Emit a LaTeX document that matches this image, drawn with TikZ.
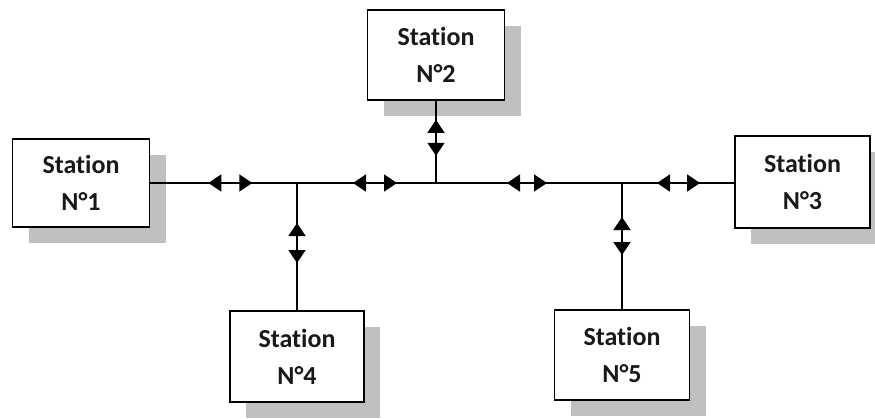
\documentclass[tikz,border=0pt]{standalone}
\usepackage{fontspec}
\setmainfont[Ligatures={NoCommon,NoRequired,NoContextual}]{Carlito}
\usetikzlibrary{arrows.meta,calc,shadows}
\begin{document}
\begin{tikzpicture}[x=1pt,y=-1pt,
  station/.style={draw=black,fill=white,line width=1.6pt,minimum width=137pt,minimum height=90pt,
    align=center,font=\fontsize{26}{37}\selectfont\bfseries,text=black!90,
    drop shadow={shadow xshift=16pt,shadow yshift=-16pt,fill=black!25,opacity=1}},
  bus/.style={line width=1.6pt},
  dbl/.style={line width=1.6pt,{Triangle[length=13pt,width=17pt]}-{Triangle[length=13pt,width=17pt]}}]
\useasboundingbox (0,0) rectangle (875,418);
\node[station,minimum height=88pt] (s1) at (81,183) {Station\\N°1};
\node[station] (s2) at (436,55) {Station\\N°2};
\node[station,minimum width=135pt,minimum height=92pt] (s3) at (802.5,182) {Station\\N°3};
\node[station,minimum width=134pt,minimum height=91pt] (s4) at (297,356.5) {Station\\N°4};
\node[station,minimum width=135pt] (s5) at (622,355) {Station\\N°5};
\coordinate (j4) at (297,183);
\coordinate (j2) at (436,183);
\coordinate (j5) at (622,183);
\draw[bus] (s1.east |- j4) -- (j4) -- (j2) -- (j5) -- (s3.west |- j5);
\draw[bus] (s2.south) -- (j2);
\draw[bus] (j4) -- (s4.north);
\draw[bus] (j5) -- (s5.north);
\draw[dbl] ($(s1.east |- j4)!58pt!(j4)$) -- ($(s1.east |- j4)!102pt!(j4)$);
\draw[dbl] ($(j4)!56pt!(j2)$) -- ($(j4)!100pt!(j2)$);
\draw[dbl] ($(j2)!71pt!(j5)$) -- ($(j2)!111pt!(j5)$);
\draw[dbl] ($(j5)!35pt!(s3.west |- j5)$) -- ($(j5)!78pt!(s3.west |- j5)$);
\draw[dbl] ($(s2.south)!19pt!(j2)$) -- ($(s2.south)!55pt!(j2)$);
\draw[dbl] ($(j4)!40pt!(s4.north)$) -- ($(j4)!80pt!(s4.north)$);
\draw[dbl] ($(j5)!34pt!(s5.north)$) -- ($(j5)!72pt!(s5.north)$);
\end{tikzpicture}
\end{document}
